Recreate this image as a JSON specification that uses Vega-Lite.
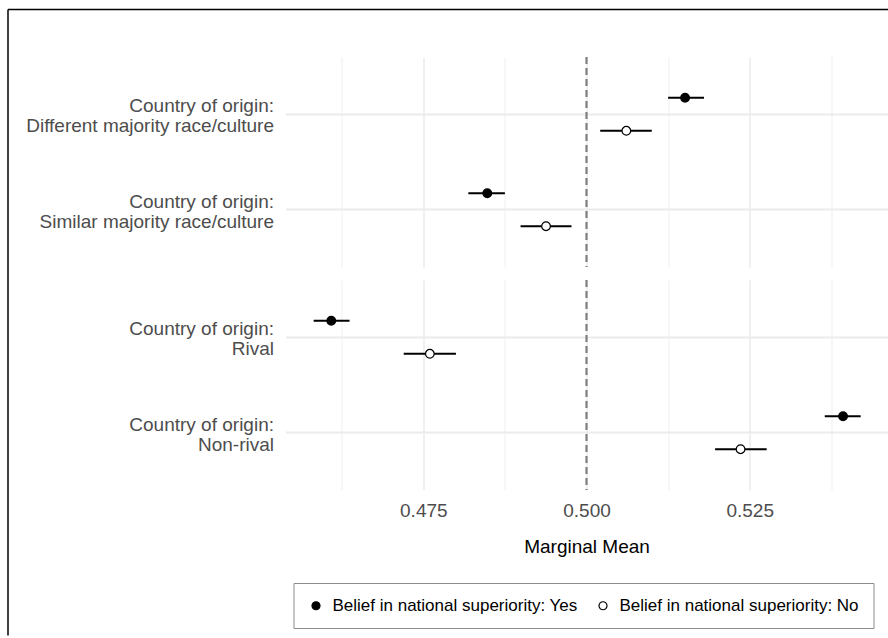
{
  "$schema": "https://vega.github.io/schema/vega-lite/v6.json",
  "padding": {"left": 7.5, "top": 9, "right": 0, "bottom": 0},
  "background": "white",
  "config": {
    "view": {"stroke": null},
    "font": "Liberation Sans",
    "axis": {"labelFont": "Liberation Sans", "titleFont": "Liberation Sans"},
    "legend": {"labelFont": "Liberation Sans"}
  },
  "data": {
    "values": [
      {"panel": "race", "attribute": "Country of origin: Different majority race/culture", "belief": "Belief in national superiority: Yes", "estimate": 0.5151, "lower": 0.5125, "upper": 0.5180},
      {"panel": "race", "attribute": "Country of origin: Different majority race/culture", "belief": "Belief in national superiority: No", "estimate": 0.5061, "lower": 0.5021, "upper": 0.5100},
      {"panel": "race", "attribute": "Country of origin: Similar majority race/culture", "belief": "Belief in national superiority: Yes", "estimate": 0.4848, "lower": 0.4819, "upper": 0.4875},
      {"panel": "race", "attribute": "Country of origin: Similar majority race/culture", "belief": "Belief in national superiority: No", "estimate": 0.4938, "lower": 0.4899, "upper": 0.4977},
      {"panel": "rivalry", "attribute": "Country of origin: Rival", "belief": "Belief in national superiority: Yes", "estimate": 0.4609, "lower": 0.4582, "upper": 0.4637},
      {"panel": "rivalry", "attribute": "Country of origin: Rival", "belief": "Belief in national superiority: No", "estimate": 0.4760, "lower": 0.4720, "upper": 0.4800},
      {"panel": "rivalry", "attribute": "Country of origin: Non-rival", "belief": "Belief in national superiority: Yes", "estimate": 0.5393, "lower": 0.5365, "upper": 0.5420},
      {"panel": "rivalry", "attribute": "Country of origin: Non-rival", "belief": "Belief in national superiority: No", "estimate": 0.5236, "lower": 0.5197, "upper": 0.5276}
    ]
  },
  "spacing": 13,
  "bounds": "flush",
  "resolve": {
    "scale": {"x": "independent", "y": "independent", "yOffset": "independent", "fill": "shared"},
    "legend": {"fill": "shared"}
  },
  "vconcat": [
    {
      "width": 602,
      "height": 210,
      "transform": [{"filter": "datum.panel == 'race'"}],
      "resolve": {
        "scale": {"x": "independent", "y": "independent"},
        "axis": {"x": "independent", "y": "independent"}
      },
      "layer": [
        {
          "layer": [
            {
              "mark": {"type": "rule", "color": "#7f7f7f", "strokeWidth": 1.4, "strokeDash": [7, 4]},
              "encoding": {
                "x": {"datum": 0.5, "type": "quantitative",
                  "scale": {"domain": [0.45389, 0.54611], "nice": false, "zero": false},
                  "axis": {"orient": "bottom", "values": [0.4625, 0.475, 0.4875, 0.5, 0.5125, 0.525, 0.5375], "labels": false, "ticks": false, "domain": false, "title": null, "grid": true, "gridColor": "#ebebeb",
                    "gridWidth": {"condition": {"test": "indexof([0.475, 0.5, 0.525], datum.value) >= 0", "value": 1.5}, "value": 0.8}}}
              }
            },
            {
              "mark": {"type": "rule", "color": "black", "strokeWidth": 2},
              "encoding": {
                "x": {"field": "lower", "type": "quantitative", "scale": {"domain": [0.45389, 0.54611], "nice": false, "zero": false}},
                "x2": {"field": "upper"},
                "y": {"field": "attribute", "type": "nominal", "sort": null, "title": null,
                  "scale": {"paddingInner": 0, "paddingOuter": 0.1},
                  "axis": {"domain": false, "ticks": false, "labelFontSize": 19, "labelColor": "#4d4d4d", "labelPadding": 12, "labelLineHeight": 20, "labelLimit": 400, "labelOffset": -8,
                    "labelExpr": "[slice(datum.label, 0, 18), slice(datum.label, 19)]", "grid": true, "gridColor": "#ebebeb", "gridWidth": 2}},
                "yOffset": {"field": "belief", "type": "nominal", "sort": ["Belief in national superiority: Yes", "Belief in national superiority: No"],
                  "scale": {"paddingInner": 0, "paddingOuter": 0.446}}
              }
            },
            {
              "mark": {"type": "point", "shape": "circle", "filled": true, "stroke": "black", "strokeWidth": 1.2, "opacity": 1, "size": 75},
              "encoding": {
                "x": {"field": "estimate", "type": "quantitative", "scale": {"domain": [0.45389, 0.54611], "nice": false, "zero": false}},
                "y": {"field": "attribute", "type": "nominal", "sort": null},
                "yOffset": {"field": "belief", "type": "nominal", "sort": ["Belief in national superiority: Yes", "Belief in national superiority: No"]},
                "fill": {"field": "belief", "type": "nominal", "sort": ["Belief in national superiority: Yes", "Belief in national superiority: No"],
                  "scale": {"range": ["black", "white"]},
                  "legend": {"title": null, "orient": "none", "legendX": 8, "legendY": 526, "direction": "horizontal",
                    "strokeColor": "#8c8c8c", "padding": 14, "labelFontSize": 17, "labelColor": "black", "labelLimit": 400,
                    "symbolType": "circle", "symbolSize": 64, "symbolStrokeColor": "black", "symbolStrokeWidth": 1.2,
                    "labelOffset": 8, "columnPadding": 16}}
              }
            }
          ]
        },
        {
          "mark": {"type": "point", "opacity": 0, "clip": true},
          "encoding": {
            "x": {"datum": 0.5, "type": "quantitative",
              "scale": {"domain": [0, 1], "range": [-278, 602]},
              "axis": {"orient": "top", "offset": 48, "domain": true, "domainColor": "black", "domainWidth": 1.5, "labels": false, "ticks": false, "grid": false, "title": null}},
            "y": {"datum": 0.5, "type": "quantitative",
              "scale": {"domain": [0, 1], "range": [-48, 578]},
              "axis": {"orient": "left", "offset": 278, "domain": true, "domainColor": "black", "domainWidth": 1.5, "labels": false, "ticks": false, "grid": false, "title": null}}
          }
        }
      ]
    },
    {
      "width": 602,
      "height": 210,
      "transform": [{"filter": "datum.panel == 'rivalry'"}],
      "layer": [
        {
          "mark": {"type": "rule", "color": "#7f7f7f", "strokeWidth": 1.4, "strokeDash": [7, 4]},
          "encoding": {
            "x": {"datum": 0.5, "type": "quantitative",
              "scale": {"domain": [0.45389, 0.54611], "nice": false, "zero": false},
              "axis": {"orient": "bottom", "values": [0.4625, 0.475, 0.4875, 0.5, 0.5125, 0.525, 0.5375], "format": ".3f",
                "labelExpr": "indexof([0.475, 0.5, 0.525], datum.value) >= 0 ? datum.label : ''",
                "labelFontSize": 19, "labelColor": "#4d4d4d", "labelPadding": 11,
                "ticks": false, "domain": false, "title": "Marginal Mean", "titleFontSize": 19, "titleColor": "black", "titleFontWeight": "normal", "titlePadding": 17,
                "grid": true, "gridColor": "#ebebeb",
                "gridWidth": {"condition": {"test": "indexof([0.475, 0.5, 0.525], datum.value) >= 0", "value": 1.5}, "value": 0.8}}}
          }
        },
        {
          "mark": {"type": "rule", "color": "black", "strokeWidth": 2},
          "encoding": {
            "x": {"field": "lower", "type": "quantitative", "scale": {"domain": [0.45389, 0.54611], "nice": false, "zero": false}},
            "x2": {"field": "upper"},
            "y": {"field": "attribute", "type": "nominal", "sort": null, "title": null,
              "scale": {"paddingInner": 0, "paddingOuter": 0.1},
              "axis": {"domain": false, "ticks": false, "labelFontSize": 19, "labelColor": "#4d4d4d", "labelPadding": 12, "labelLineHeight": 20, "labelLimit": 400, "labelOffset": -8,
                "labelExpr": "[slice(datum.label, 0, 18), slice(datum.label, 19)]", "grid": true, "gridColor": "#ebebeb", "gridWidth": 2}},
            "yOffset": {"field": "belief", "type": "nominal", "sort": ["Belief in national superiority: Yes", "Belief in national superiority: No"],
              "scale": {"paddingInner": 0, "paddingOuter": 0.446}}
          }
        },
        {
          "mark": {"type": "point", "shape": "circle", "filled": true, "stroke": "black", "strokeWidth": 1.2, "opacity": 1, "size": 75},
          "encoding": {
            "x": {"field": "estimate", "type": "quantitative", "scale": {"domain": [0.45389, 0.54611], "nice": false, "zero": false}},
            "y": {"field": "attribute", "type": "nominal", "sort": null},
            "yOffset": {"field": "belief", "type": "nominal", "sort": ["Belief in national superiority: Yes", "Belief in national superiority: No"]},
            "fill": {"field": "belief", "type": "nominal", "sort": ["Belief in national superiority: Yes", "Belief in national superiority: No"],
              "scale": {"range": ["black", "white"]}}
          }
        }
      ]
    }
  ]
}
